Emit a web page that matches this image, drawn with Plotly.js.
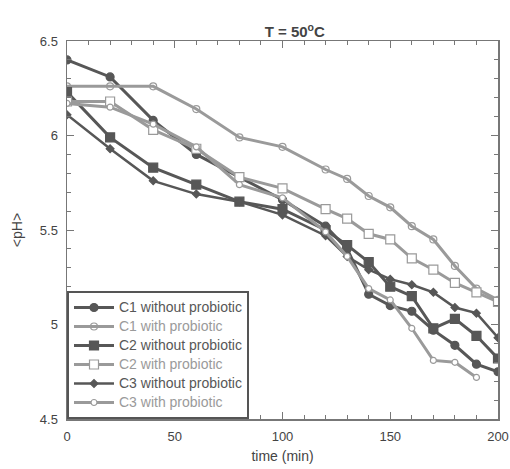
<!DOCTYPE html>
<html>
<head>
<meta charset="utf-8">
<script src="https://cdn.plot.ly/plotly-3.0.1.min.js"></script>
<style>html,body{margin:0;padding:0;background:#fff;}#chart{width:510px;height:469px;}</style>
</head>
<body>
<div id="chart"></div>
<script>
var time = [0, 20, 40, 60, 80, 100, 120, 130, 140, 150, 160, 170, 180, 190, 200];
var c1Without = [6.40, 6.31, 6.08, 5.90, 5.78, 5.66, 5.52, 5.40, 5.16, 5.10, 5.07, 4.97, 4.89, 4.79, 4.75];
var c1With    = [6.26, 6.26, 6.26, 6.14, 5.99, 5.94, 5.82, 5.77, 5.68, 5.62, 5.52, 5.45, 5.31, 5.19, 5.13];
var c2Without = [6.23, 5.99, 5.83, 5.74, 5.65, 5.61, 5.50, 5.42, 5.33, 5.20, 5.15, 4.98, 5.03, 4.94, 4.82];
var c2With    = [6.18, 6.18, 6.03, 5.93, 5.78, 5.72, 5.61, 5.56, 5.48, 5.45, 5.35, 5.29, 5.22, 5.17, 5.12];
var c3Without = [6.11, 5.93, 5.76, 5.69, 5.65, 5.58, 5.47, 5.36, 5.29, 5.24, 5.21, 5.17, 5.09, 5.06, 4.93];
var c3With    = [6.17, 6.15, 6.06, 5.94, 5.74, 5.67, 5.49, 5.36, 5.19, 5.13, 4.98, 4.81, 4.80, 4.72, null];
var seriesNames = ["C1 without probiotic", "C1 with probiotic", "C2 without probiotic",
                   "C2 with probiotic", "C3 without probiotic", "C3 with probiotic"];

var dark = "#575757", light = "#9a9a9a";
function tr(y, name, col, sym, size, fill, w) {
  return {
    x: time, y: y, type: "scatter", mode: "lines+markers",
    name: '<span style="color:' + col + ';font-size:14px">' + name + '</span>',
    line: {color: col, width: w},
    marker: {symbol: sym, size: size, color: fill, line: {color: col, width: 1.2}},
    connectgaps: false
  };
}
var data = [
  tr(c1Without, seriesNames[0], dark, "circle", 8, dark, 3),
  tr(c1With, seriesNames[1], light, "circle-open", 7, light, 3),
  tr(c2Without, seriesNames[2], dark, "square", 9, dark, 3),
  tr(c2With, seriesNames[3], light, "square", 9, "#ffffff", 3),
  tr(c3Without, seriesNames[4], dark, "diamond", 6, dark, 2.5),
  tr(c3With, seriesNames[5], light, "circle", 6, "#ffffff", 3)
];
var fam = "Liberation Sans, Arial, sans-serif";
var axisCommon = {
  showgrid: false, zeroline: false, showline: true, mirror: "ticks",
  linecolor: "#777", linewidth: 1.5, ticks: "inside", ticklen: 7, tickcolor: "#777",
  ticklabelstandoff: 5,
  tickfont: {family: fam, size: 13, color: "#444"}
};
var layout = {
  width: 510, height: 469,
  margin: {l: 67, r: 12, t: 41, b: 50},
  paper_bgcolor: "#fff", plot_bgcolor: "#fff",
  title: {text: "T = 50<sup>o</sup>C", x: 0.578, xanchor: "center", y: 0.932, yanchor: "middle",
          font: {family: fam, size: 15, color: "#444", weight: "bold"}},
  xaxis: Object.assign({}, axisCommon, {
    range: [0, 200], tickvals: [0, 50, 100, 150, 200],
    minor: {dtick: 10, ticklen: 4, ticks: "inside", tickcolor: "#777", showgrid: false},
    title: {text: "time (min)", standoff: 8, font: {family: fam, size: 14, color: "#444"}}
  }),
  yaxis: Object.assign({}, axisCommon, {
    range: [4.5, 6.5], tickvals: [4.5, 5, 5.5, 6, 6.5],
    minor: {dtick: 0.1, ticklen: 4, ticks: "inside", tickcolor: "#777", showgrid: false},
    title: {text: "&lt;pH&gt;", standoff: 14, font: {family: fam, size: 14, color: "#444"}}
  }),
  legend: {x: 0, y: 0, xanchor: "left", yanchor: "bottom",
           bgcolor: "#fff", bordercolor: "#555", borderwidth: 2,
           font: {family: fam, size: 12, color: "#555"},
           tracegroupgap: 0, itemwidth: 40},
  showlegend: true
};
Plotly.newPlot("chart", data, layout, {displayModeBar: false, staticPlot: true});
</script>
</body>
</html>
